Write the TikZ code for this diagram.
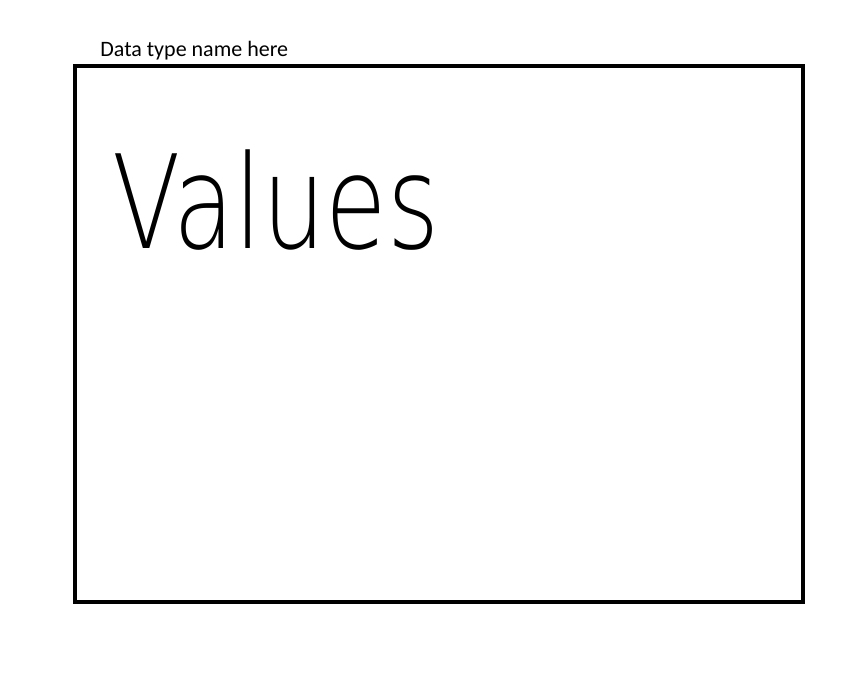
\documentclass[tikz,border=0pt]{standalone}
\usepackage{fontspec}
\setmainfont{Carlito}
\newfontfamily\handfont{DejaVu Sans ExtraLight}
\usetikzlibrary{positioning}
\begin{document}
\begin{tikzpicture}[x=1pt,y=-1pt,thick]
        \useasboundingbox (0,0) rectangle (868,673);
        \node (box) [draw, line width=4pt, minimum width=728pt, minimum height=536pt, inner sep=0pt] at (439,334) {};
        \node (typename) [anchor=base west, inner sep=0pt, font=\fontsize{22}{26}\selectfont] at (100,56) {Data type name here};
        \node (values) [anchor=base west, inner sep=0pt, font=\handfont\fontsize{100}{110}\selectfont, yscale=1.3] at (112,248) {Values};
    \end{tikzpicture}
\end{document}
